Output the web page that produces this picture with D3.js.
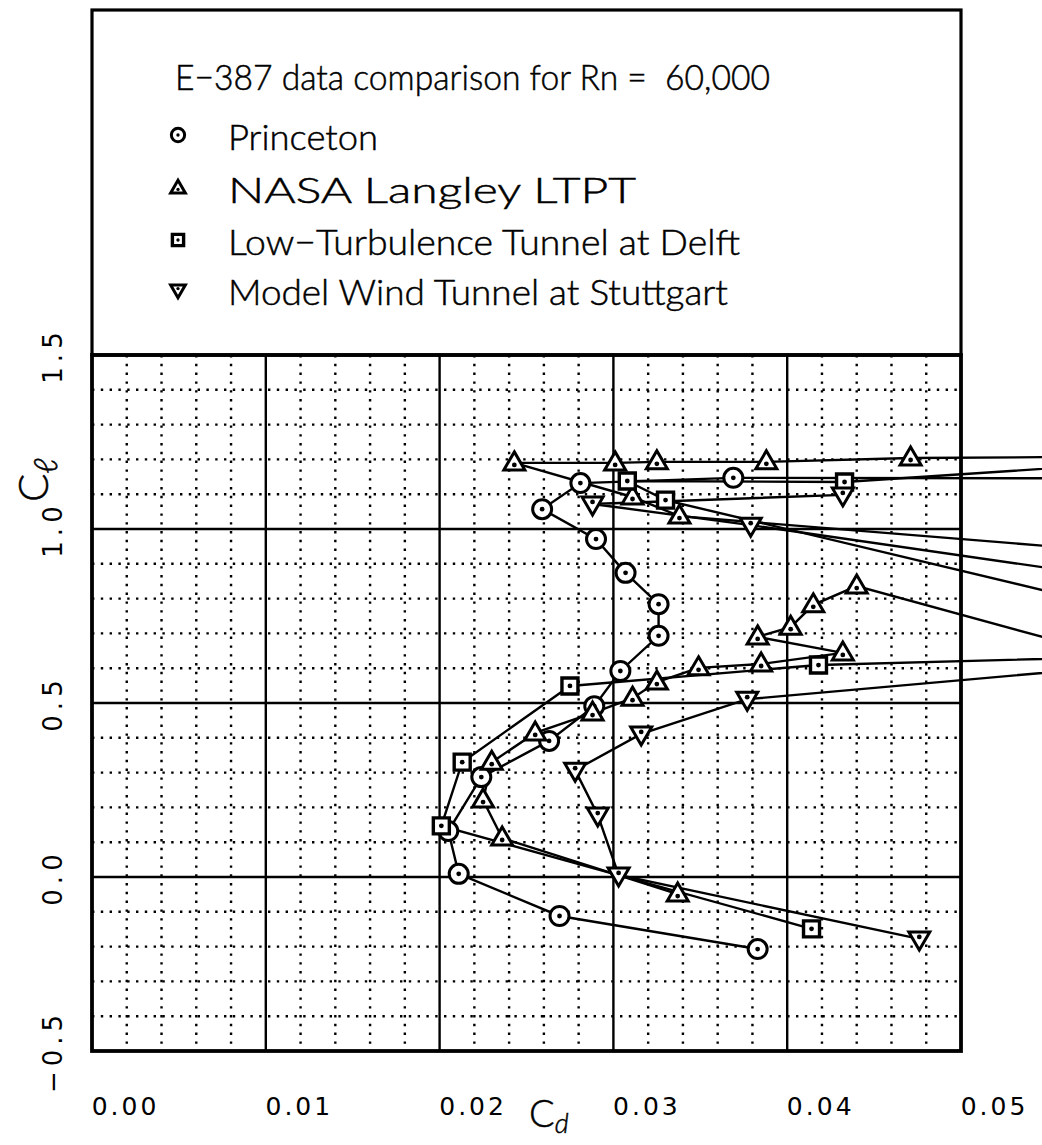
<!DOCTYPE html>
<html>
<head>
<meta charset="utf-8">
<script src="https://cdn.jsdelivr.net/npm/d3@7"></script>
<style>
  html, body { margin: 0; padding: 0; background: #fff; }
  svg { display: block; }
  text { fill: #000; }
</style>
</head>
<body>
<svg id="chart" width="1042" height="1145"></svg>
<script>
// E-387 airfoil drag polars at Rn = 60,000 (Cd, Cl pairs in test order)
const princetonCd = [0.0383, 0.0269, 0.0211, 0.0205, 0.0224, 0.0263, 0.0289, 0.0304, 0.0326, 0.0326, 0.0307, 0.0290, 0.0259, 0.0281, 0.0369, 0.0680];
const princetonCl = [-0.207, -0.112, 0.009, 0.132, 0.287, 0.391, 0.491, 0.592, 0.693, 0.784, 0.874, 0.971, 1.057, 1.132, 1.147, 1.145];

const langleyCd = [0.0337, 0.0236, 0.0225, 0.0230, 0.0255, 0.0288, 0.0311, 0.0325, 0.0349, 0.0385, 0.0432, 0.0383, 0.0402, 0.0415, 0.0440, 0.0620, 0.0700, 0.0338, 0.0311, 0.0243, 0.0301, 0.0325, 0.0388, 0.0471, 0.0660];
const langleyCl = [-0.049, 0.112, 0.221, 0.330, 0.414, 0.471, 0.514, 0.560, 0.601, 0.612, 0.644, 0.690, 0.718, 0.782, 0.836, 0.590, 0.890, 1.037, 1.092, 1.190, 1.190, 1.193, 1.193, 1.204, 1.210];

const delftCd = [0.0414, 0.0201, 0.0213, 0.0275, 0.0418, 0.0696, 0.0330, 0.0308, 0.0433, 0.0650];
const delftCl = [-0.149, 0.147, 0.330, 0.549, 0.609, 0.647, 1.083, 1.138, 1.135, 1.207];

const stuttgartCd = [0.0476, 0.0303, 0.0291, 0.0278, 0.0316, 0.0377, 0.0600, 0.0650, 0.0379, 0.0288, 0.0432];
const stuttgartCl = [-0.178, 0.006, 0.178, 0.307, 0.411, 0.511, 0.610, 0.816, 1.011, 1.072, 1.098];

const seriesNames = ["Princeton", "NASA Langley LTPT", "Low\u2212Turbulence Tunnel at Delft", "Model Wind Tunnel at Stuttgart"];
const seriesSymbols = ["circle", "triangleUp", "square", "triangleDown"];

const xTickValues = [0.00, 0.01, 0.02, 0.03, 0.04, 0.05];
const yTickValues = [-0.5, 0.0, 0.5, 1.0, 1.5];
const chartTitle = "E\u2212387 data comparison for Rn =  60,000";

const series = [
  { cd: princetonCd, cl: princetonCl },
  { cd: langleyCd, cl: langleyCl },
  { cd: delftCd, cl: delftCl },
  { cd: stuttgartCd, cl: stuttgartCl }
].map((s, i) => ({
  name: seriesNames[i],
  symbol: seriesSymbols[i],
  points: s.cd.map((d, j) => ({ cd: d, cl: s.cl[j] }))
}));

const svg = d3.select("#chart");
const plotLeft = 92, plotRight = 961, plotTop = 355, plotBottom = 1051;

const x = d3.scaleLinear().domain([0, 0.05]).range([plotLeft, plotRight]);
const y = d3.scaleLinear().domain([-0.5, 1.5]).range([plotBottom, plotTop]);

// ---- grid ----
const grid = svg.append("g");
const minorX = d3.range(1, 25).map(i => i * 0.002).filter((v, i) => (i + 1) % 5 !== 0);
const minorY = d3.range(1, 20).map(i => -0.5 + i * 0.1).filter((v, i) => (i + 1) % 5 !== 0);
grid.selectAll("line.mx").data(minorX).join("line")
  .attr("x1", d => x(d)).attr("x2", d => x(d))
  .attr("y1", plotTop).attr("y2", plotBottom)
  .attr("stroke", "#000").attr("stroke-width", 2.4)
  .attr("stroke-dasharray", "2.4,6.4");
grid.selectAll("line.my").data(minorY).join("line")
  .attr("y1", d => y(d)).attr("y2", d => y(d))
  .attr("x1", plotLeft).attr("x2", plotRight)
  .attr("stroke", "#000").attr("stroke-width", 2.4)
  .attr("stroke-dasharray", "2.4,6.4");
grid.selectAll("line.Mx").data([0.01, 0.02, 0.03, 0.04]).join("line")
  .attr("x1", d => x(d)).attr("x2", d => x(d))
  .attr("y1", plotTop).attr("y2", plotBottom)
  .attr("stroke", "#000").attr("stroke-width", 2.4);
grid.selectAll("line.My").data([0.0, 0.5, 1.0]).join("line")
  .attr("y1", d => y(d)).attr("y2", d => y(d))
  .attr("x1", plotLeft).attr("x2", plotRight)
  .attr("stroke", "#000").attr("stroke-width", 2.4);

// ---- legend box and plot frame ----
svg.append("rect").attr("x", plotLeft).attr("y", 10)
  .attr("width", plotRight - plotLeft).attr("height", plotTop - 10)
  .attr("fill", "none").attr("stroke", "#000").attr("stroke-width", 3.2);
svg.append("rect").attr("x", plotLeft).attr("y", plotTop)
  .attr("width", plotRight - plotLeft).attr("height", plotBottom - plotTop)
  .attr("fill", "none").attr("stroke", "#000").attr("stroke-width", 3.8);

// ---- symbol paths ----
function symbolPath(kind, s) {
  switch (kind) {
    case "circle":
      return `M${9.5 * s},0A${9.5 * s},${9.5 * s} 0 1,1 ${-9.5 * s},0A${9.5 * s},${9.5 * s} 0 1,1 ${9.5 * s},0Z`;
    case "triangleUp":
      return `M0,${-11 * s}L${10.5 * s},${7 * s}L${-10.5 * s},${7 * s}Z`;
    case "triangleDown":
      return `M0,${11 * s}L${10.5 * s},${-7 * s}L${-10.5 * s},${-7 * s}Z`;
    case "square":
      return `M${-8 * s},${-8 * s}H${8 * s}V${8 * s}H${-8 * s}Z`;
  }
}
function dotOffset(kind) {
  if (kind === "triangleUp") return 2;
  if (kind === "triangleDown") return -2;
  return 0;
}
function drawMarker(g, kind, s) {
  g.append("path").attr("d", symbolPath(kind, s))
    .attr("fill", "#fff").attr("stroke", "#000")
    .attr("stroke-width", kind === "square" ? 3.4 : 3)
    .attr("stroke-linejoin", "miter");
  g.append("circle").attr("cx", 0).attr("cy", dotOffset(kind) * s)
    .attr("r", 2.4 * s).attr("fill", "#000");
}

// ---- data lines ----
const line = d3.line().x(d => x(d.cd)).y(d => y(d.cl));
const lines = svg.append("g");
series.forEach(s => {
  lines.append("path").datum(s.points)
    .attr("d", line)
    .attr("fill", "none").attr("stroke", "#000")
    .attr("stroke-width", 2.4);
});

// ---- markers ----
const markers = svg.append("g");
series.forEach(s => {
  markers.selectAll(null).data(s.points).join("g")
    .attr("transform", d => `translate(${x(d.cd)},${y(d.cl)})`)
    .each(function () { drawMarker(d3.select(this), s.symbol, 1); });
});

// ---- axes ----
const tickFont = "'DejaVu Sans'";
const xAxis = d3.axisBottom(x).tickValues(xTickValues)
  .tickFormat(d3.format(".2f")).tickSize(0);
svg.append("g").attr("transform", `translate(0,${plotBottom})`).call(xAxis)
  .call(g => g.select(".domain").remove())
  .selectAll("text")
  .attr("dx", 33).attr("y", 46)
  .style("font-family", tickFont).style("font-size", "25px")
  .style("letter-spacing", "3px").attr("fill", "#000");

const yAxis = d3.axisLeft(y).tickValues(yTickValues)
  .tickFormat(d3.format(".1f")).tickSize(0);
svg.append("g").attr("transform", `translate(${plotLeft},0)`).call(yAxis)
  .call(g => g.select(".domain").remove())
  .selectAll("text")
  .attr("x", 0).attr("dy", 0).attr("y", 0)
  .attr("text-anchor", "middle")
  .attr("transform", "translate(-30,0) rotate(-90)")
  .style("font-family", tickFont).style("font-size", "26px")
  .style("letter-spacing", "5px").attr("fill", "#000");

// ---- axis titles ----
const titleStyle = sel => sel.style("font-family", "Lato").style("font-weight", 300)
  .style("stroke", "#000").style("stroke-width", "0.5px");
const xt = svg.append("text").attr("x", 529).attr("y", 1127).call(titleStyle)
  .style("font-size", "38px");
xt.append("tspan").text("C");
xt.append("tspan").attr("dy", 6).style("font-size", "27px").style("font-style", "italic").text("d");

const yt = svg.append("text")
  .attr("transform", "translate(48,502) rotate(-90)").call(titleStyle)
  .style("font-size", "42px");
yt.append("tspan").text("C");
yt.append("tspan").attr("dy", 9).style("font-size", "32px").style("font-style", "italic").text("\u2113");

// ---- legend ----
svg.append("text").attr("x", 175).attr("y", 90)
  .attr("textLength", 595).attr("lengthAdjust", "spacingAndGlyphs")
  .style("white-space", "pre").call(titleStyle)
  .style("font-size", "36px")
  .text(chartTitle);

const legendRows = [150, 203, 255, 305];
const legendWidths = [150, 408, 512, 500];
series.forEach((s, i) => {
  const g = svg.append("g").attr("transform", `translate(178,${legendRows[i] - 15})`);
  drawMarker(g, s.symbol, 0.7);
  svg.append("text").attr("x", 228).attr("y", legendRows[i])
    .attr("textLength", legendWidths[i]).attr("lengthAdjust", "spacingAndGlyphs")
    .call(titleStyle).style("font-size", "36px")
    .text(s.name);
});
</script>
</body>
</html>
